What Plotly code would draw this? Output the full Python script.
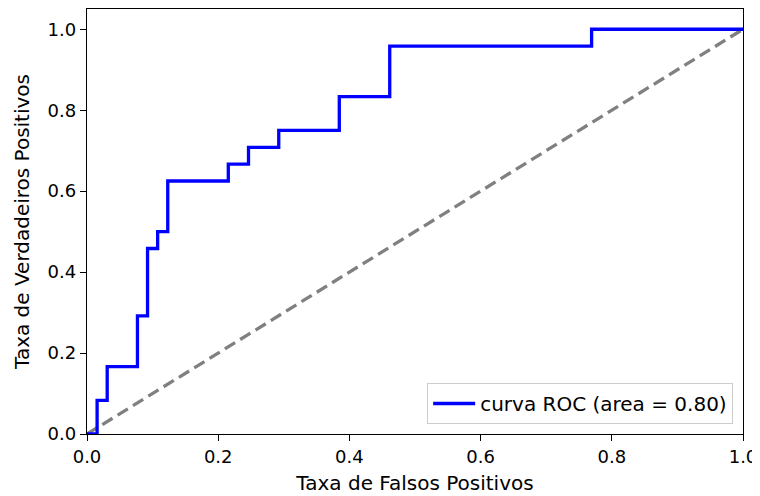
import plotly.graph_objects as go

# ROC curve corner points (false positive rate, true positive rate)
fpr = [0.0, 0.0154, 0.0154, 0.0308, 0.0308, 0.0769, 0.0769, 0.0923, 0.0923,
       0.1077, 0.1077, 0.1231, 0.1231, 0.2154, 0.2154, 0.2462, 0.2462,
       0.2923, 0.2923, 0.3846, 0.3846, 0.4615, 0.4615, 0.7692, 0.7692, 1.0]
tpr = [0.0, 0.0, 0.0833, 0.0833, 0.1667, 0.1667, 0.2917, 0.2917, 0.4583,
       0.4583, 0.5, 0.5, 0.625, 0.625, 0.6667, 0.6667, 0.7083, 0.7083,
       0.75, 0.75, 0.8333, 0.8333, 0.9583, 0.9583, 1.0, 1.0]
roc_auc = 0.80
diag_x = [0.0, 1.0]
diag_y = [0.0, 1.0]
ticks = [0.0, 0.2, 0.4, 0.6, 0.8, 1.0]
tick_text = ["0.0", "0.2", "0.4", "0.6", "0.8", "1.0"]

font = "DejaVu Sans, Verdana, sans-serif"
fs = 20
tfs = 18

fig = go.Figure()
fig.add_trace(go.Scatter(
    x=diag_x, y=diag_y, mode="lines",
    line=dict(color="#808080", width=3.3, dash="12px,6px"),
    showlegend=False, hoverinfo="skip"))
fig.add_trace(go.Scatter(
    x=fpr, y=tpr, mode="lines",
    line=dict(color="#0000ff", width=3.3),
    name="curva ROC (area = %0.2f)" % roc_auc))

axis_common = dict(
    showline=True, linecolor="black", linewidth=1.3, mirror=True,
    ticks="outside", ticklen=6, tickwidth=1.3, tickcolor="black",
    showgrid=False, zeroline=False, automargin=False,
    tickfont=dict(family=font, size=tfs, color="black"),
    tickvals=ticks, ticktext=tick_text,
)

# page body adds an 8px offset, so the figure is sized to the visible area
fig.update_layout(
    width=752, height=488,
    margin=dict(l=79, r=17, t=1, b=62),
    paper_bgcolor="white", plot_bgcolor="white",
    font=dict(family=font, size=fs, color="black"),
    xaxis=dict(range=[0, 1.0],
               title=dict(text="Taxa de Falsos Positivos",
                          font=dict(family=font, size=fs), standoff=10),
               **axis_common),
    yaxis=dict(range=[0, 1.05],
               title=dict(text="Taxa de Verdadeiros Positivos",
                          font=dict(family=font, size=fs), standoff=12),
               **axis_common),
    legend=dict(x=0.985, y=0.0235, xanchor="right", yanchor="bottom",
                bgcolor="rgba(255,255,255,0.8)", bordercolor="#cccccc",
                borderwidth=1, font=dict(family=font, size=fs),
                itemwidth=42),
)

fig.write_html("out.html")
